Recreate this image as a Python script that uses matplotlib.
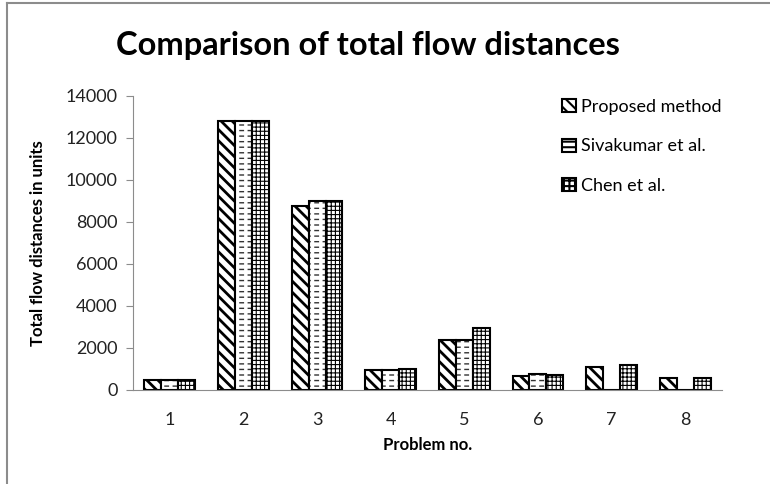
import numpy as np
import matplotlib
matplotlib.use('Agg')
import matplotlib.pyplot as plt
from matplotlib.lines import Line2D
from matplotlib.patches import Patch

plt.rcParams['font.family'] = ['Lato', 'DejaVu Sans']

problems = ['1', '2', '3', '4', '5', '6', '7', '8']
proposed = [470, 12800, 8750, 930, 2390, 650, 1110, 560]
sivakumar = [470, 12800, 8980, 930, 2390, 780, 0, 0]
chen = [470, 12800, 8980, 1020, 2940, 700, 1190, 590]
series_names = ['Proposed method', 'Sivakumar et al.', 'Chen et al.']
yticks = [0, 2000, 4000, 6000, 8000, 10000, 12000, 14000]

fig = plt.figure(figsize=(7.7, 4.84), dpi=100)
ax = fig.add_axes([133/770, 1-390/484, (722-133)/770, (390-96)/484])

x = np.arange(len(problems))
w = 0.23

# proposed: thick diagonal stripes
plt.rcParams['hatch.linewidth'] = 2.0
ax.bar(x - w, proposed, w, facecolor='white', edgecolor='k', hatch='\\\\\\', lw=1.5)

# sivakumar: horizontal lines broken into dashes by white vertical lines
plt.rcParams['hatch.linewidth'] = 1.0
ax.bar(x, sivakumar, w, facecolor='white', edgecolor='#333333', hatch='---', lw=0)
plt.rcParams['hatch.linewidth'] = 2.5
ax.bar(x, sivakumar, w, facecolor='none', edgecolor='white', hatch='||', lw=0)
ax.bar(x, sivakumar, w, facecolor='none', edgecolor='k', lw=1.5)

# chen: fine grid
plt.rcParams['hatch.linewidth'] = 0.8
ax.bar(x + w, chen, w, facecolor='white', edgecolor='k', hatch='++++', lw=1.5)

ax.set_xlim(-0.5, len(problems) - 0.5)
ax.set_ylim(0, 14000)
ax.set_yticks(yticks)
ax.set_xticks(x)
ax.set_xticklabels(problems)
for s in ['top', 'right']:
    ax.spines[s].set_visible(False)
for s in ['left', 'bottom']:
    ax.spines[s].set_color('#8c8c8c')
ax.tick_params(axis='y', length=5, color='#8c8c8c', labelsize=13, pad=6, labelcolor='#222222')
ax.tick_params(axis='x', length=0, labelsize=13, pad=16, labelcolor='#222222')

ax.set_xlabel('Problem no.', fontsize=12, fontweight='bold', labelpad=6)
ax.set_ylabel('Total flow distances in units', fontsize=12, fontweight='bold', labelpad=14)
fig.text(368/770, 1-45/484, 'Comparison of total flow distances', fontsize=23.5,
         fontweight='bold', ha='center', va='center')

plt.rcParams['hatch.linewidth'] = 1.5
handles = [Patch(facecolor='white', edgecolor='k', hatch='\\\\\\', lw=1.5),
           Patch(facecolor='white', edgecolor='k', hatch='---', lw=1.5),
           Patch(facecolor='white', edgecolor='k', hatch='+++', lw=1.5)]
ax.legend(handles, series_names, loc='upper left', bbox_to_anchor=(553/770, 1-90/484),
          bbox_transform=fig.transFigure, frameon=False, fontsize=13,
          handlelength=0.75, handleheight=0.75, handletextpad=0.3, labelspacing=1.3,
          borderpad=0)

# outer chart frame (top and left edges visible)
fig.add_artist(Line2D([7/770, 7/770], [0, 1-3/484], color='#8c8c8c', lw=1.5))
fig.add_artist(Line2D([7/770, 1], [1-3/484, 1-3/484], color='#8c8c8c', lw=1.5))

plt.savefig('out.png', dpi=100)
plt.close('all')
